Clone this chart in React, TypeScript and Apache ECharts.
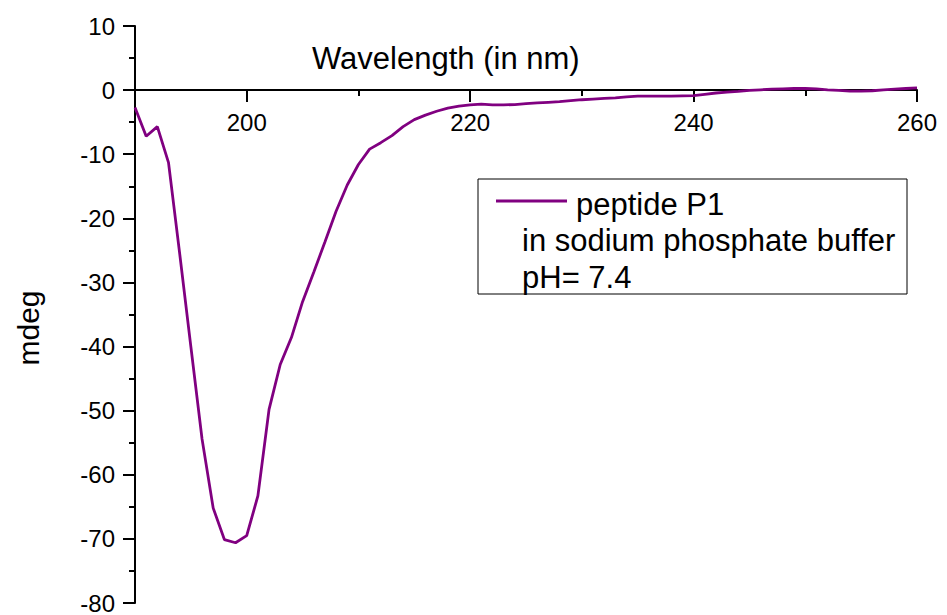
import React, { useEffect, useRef } from "react";
import * as echarts from "echarts";

const wavelengths = [
  190, 191, 192, 193, 194, 195, 196, 197, 198, 199,
  200, 201, 202, 203, 204, 205, 206, 207, 208, 209,
  210, 211, 212, 213, 214, 215, 216, 217, 218, 219,
  220, 221, 222, 223, 224, 225, 226, 227, 228, 229,
  230, 231, 232, 233, 234, 235, 236, 237, 238, 239,
  240, 241, 242, 243, 244, 245, 246, 247, 248, 249,
  250, 251, 252, 253, 254, 255, 256, 257, 258, 259,
  260,
];

const mdeg = [
  -2.7, -7.2, -5.7, -11.3, -25.5, -40.0, -54.4, -65.2, -70.1, -70.6,
  -69.5, -63.3, -49.8, -42.8, -38.6, -33.0, -28.4, -23.7, -18.9, -14.8,
  -11.6, -9.2, -8.2, -7.1, -5.7, -4.6, -3.9, -3.3, -2.8, -2.5,
  -2.3, -2.2, -2.3, -2.3, -2.25, -2.1, -2.0, -1.9, -1.8, -1.65,
  -1.5, -1.4, -1.3, -1.2, -1.05, -0.95, -0.95, -0.95, -0.95, -0.9,
  -0.85, -0.65, -0.45, -0.3, -0.2, -0.05, 0.05, 0.15, 0.2, 0.25,
  0.25, 0.2, 0.05, -0.05, -0.15, -0.15, -0.1, 0.05, 0.15, 0.25,
  0.35,
];

const X_MIN = 190;
const X_MAX = 260;
const Y_MIN = -80;
const Y_MAX = 10;
const xMajorTicks = [200, 220, 240, 260];
const xMinorTicks = [210, 230, 250];
const legendLines = ["peptide P1", "in sodium phosphate buffer", "pH= 7.4"];
const xTitle = "Wavelength (in nm)";
const yTitle = "mdeg";

const FONT = '"Liberation Sans", Arial, sans-serif';
const PURPLE = "#800080";

const GRID_LEFT = 135;
const GRID_RIGHT = 30;
const GRID_TOP = 26;
const GRID_BOTTOM = 12;
const CHART_H = 615;

export default function App() {
  const ref = useRef<HTMLDivElement>(null);

  useEffect(() => {
    if (!ref.current) return;
    const chart = echarts.init(ref.current, null, { renderer: "svg" });
    const axisLineStyle = { color: "#000", width: 2 };
    // pixel row of value 0 on the y scale (x axis sits at y = 0)
    const plotH = CHART_H - GRID_TOP - GRID_BOTTOM;
    const zeroTop = GRID_TOP + (plotH * (Y_MAX - 0)) / (Y_MAX - Y_MIN);

    chart.setOption({
      animation: false,
      backgroundColor: "#fff",
      grid: [
        {
          left: GRID_LEFT,
          right: GRID_RIGHT,
          top: GRID_TOP,
          bottom: GRID_BOTTOM,
          containLabel: false,
          outerBoundsMode: "none",
        },
        {
          left: GRID_LEFT,
          right: GRID_RIGHT,
          top: zeroTop,
          bottom: GRID_BOTTOM,
          containLabel: false,
          outerBoundsMode: "none",
        },
      ],
      xAxis: [
        {
          type: "value",
          gridIndex: 0,
          min: X_MIN,
          max: X_MAX,
          show: false,
        },
        {
          type: "value",
          gridIndex: 1,
          min: X_MIN,
          max: X_MAX,
          position: "top",
          axisLine: { show: true, onZero: false, lineStyle: axisLineStyle },
          axisTick: {
            show: true,
            inside: true,
            customValues: xMajorTicks,
            length: 12,
            lineStyle: axisLineStyle,
          },
          axisLabel: {
            inside: true,
            customValues: xMajorTicks,
            margin: 20,
            fontSize: 24,
            color: "#000",
            fontFamily: FONT,
          },
          splitLine: { show: false },
        },
        {
          type: "value",
          gridIndex: 1,
          min: X_MIN,
          max: X_MAX,
          position: "top",
          axisLine: { show: false, onZero: false },
          axisTick: {
            show: true,
            inside: true,
            customValues: xMinorTicks,
            length: 6,
            lineStyle: axisLineStyle,
          },
          axisLabel: { show: false },
          splitLine: { show: false },
        },
      ],
      yAxis: [
        {
          type: "value",
          gridIndex: 0,
          min: Y_MIN,
          max: Y_MAX,
          interval: 10,
          axisLine: { show: true, onZero: false, lineStyle: axisLineStyle },
          axisTick: { show: true, length: 12, lineStyle: axisLineStyle },
          minorTick: { show: true, splitNumber: 2, length: 6, lineStyle: { color: "#000", width: 2 } },
          axisLabel: { margin: 20, fontSize: 24, color: "#000", fontFamily: FONT },
          splitLine: { show: false },
        },
        {
          type: "value",
          gridIndex: 1,
          min: Y_MIN,
          max: 0,
          show: false,
        },
      ],
      series: [
        {
          type: "line",
          name: legendLines[0],
          xAxisIndex: 0,
          yAxisIndex: 0,
          data: wavelengths.map((w, i) => [w, mdeg[i]]),
          showSymbol: false,
          symbol: "none",
          lineStyle: { color: PURPLE, width: 2.8 },
          z: 3,
        },
      ],
      graphic: [
        {
          type: "text",
          x: 312,
          y: 58,
          style: {
            text: xTitle,
            fill: "#000",
            font: `31px ${FONT}`,
            align: "left",
            verticalAlign: "middle",
          },
        },
        {
          type: "text",
          x: 28,
          y: 328,
          rotation: Math.PI / 2,
          style: {
            text: yTitle,
            fill: "#000",
            font: `30px ${FONT}`,
            align: "center",
            verticalAlign: "middle",
          },
        },
        {
          type: "rect",
          shape: { x: 478, y: 179, width: 429, height: 115 },
          style: { fill: "#fff", stroke: "#000", lineWidth: 1 },
        },
        {
          type: "line",
          shape: { x1: 496, y1: 201, x2: 567, y2: 201 },
          style: { stroke: PURPLE, lineWidth: 2.8 },
        },
        {
          type: "text",
          x: 576,
          y: 204,
          style: { text: legendLines[0], fill: "#000", font: `31px ${FONT}`, align: "left", verticalAlign: "middle" },
        },
        {
          type: "text",
          x: 522,
          y: 240,
          style: { text: legendLines[1], fill: "#000", font: `31px ${FONT}`, align: "left", verticalAlign: "middle" },
        },
        {
          type: "text",
          x: 522,
          y: 277,
          style: { text: legendLines[2], fill: "#000", font: `31px ${FONT}`, align: "left", verticalAlign: "middle" },
        },
      ],
    });
    return () => chart.dispose();
  }, []);

  return (
    <div
      ref={ref}
      style={{ position: "absolute", left: 0, top: 0, width: 947, height: 615 }}
    />
  );
}
